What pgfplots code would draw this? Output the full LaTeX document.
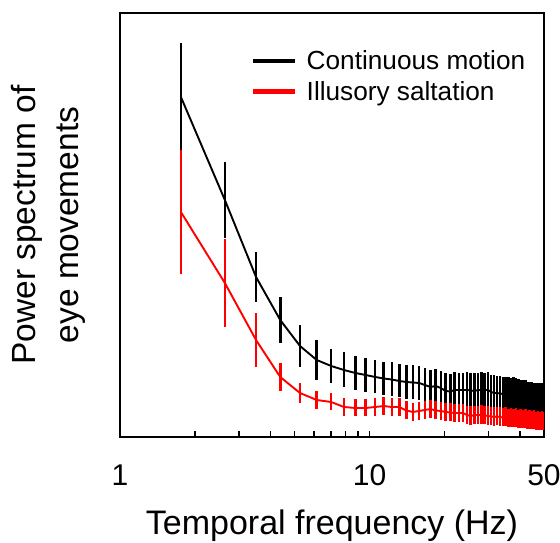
\documentclass[border=0pt]{standalone}
\usepackage{fontspec}
\setmainfont{Liberation Sans}
\usepackage{pgfplots}
\usepackage{pgfplotstable}
\pgfplotsset{compat=1.18}

\pgfplotstableread{
x y e
1.7544 340 54
2.6316 237 38
3.5088 160 25
4.3860 117 23
5.2632 91 21
6.1404 77 20
7.0175 71 17
7.8947 67 17.5
8.7719 64 17
9.6491 62 17
10.5263 60 16.5
11.4035 58.5 16.5
12.2807 57.5 17
13.1579 56 16.5
14.0351 55 17
14.9123 54.5 17
15.7895 54 17
16.6667 52 17
17.5439 50 17
18.4211 51 17
19.2982 49 17
20.1754 46 17.5
21.0526 45.5 17.5
21.9298 47 17.5
22.8070 47 17
23.6842 47 17
24.5614 47 17.5
25.4386 46.5 17
26.3158 46 17.5
27.1930 47 17
28.0702 47 17.5
28.9474 47 17
29.8246 47 17.5
30.7018 45 17
31.5789 44 17.5
32.4561 44 17
33.3333 43.5 17.5
34.2105 43 17
35.0877 42 17.5
35.9649 42 17.5
36.8421 42 17
37.7193 42 17.5
38.5965 41 17.5
39.4737 41 17
40.3509 39 17.5
41.2281 39 17.5
42.1053 39 17.5
42.9825 37.5 17.5
43.8596 37.5 17.5
44.7368 37.5 17
45.6140 36 17.5
46.4912 36 17.5
47.3684 36 17.5
48.2456 36 17.5
49.1228 36 17.5
50.0000 36 17.5
}\continuous

\pgfplotstableread{
x y e
1.7544 225 62
2.6316 154 44
3.5088 97 27
4.3860 60 14
5.2632 44 10
6.1404 37 9
7.0175 35 8.5
7.8947 30 9
8.7719 29 8.5
9.6491 29 8.5
10.5263 30 9
11.4035 31 9
12.2807 30 9
13.1579 30 9
14.0351 26.5 9
14.9123 25 9
15.7895 26 9
16.6667 27 9
17.5439 28 9
18.4211 26.5 9
19.2982 26 9
20.1754 25 9
21.0526 24.5 9
21.9298 24 9
22.8070 24 9
23.6842 24 9
24.5614 22 9
25.4386 21 9.5
26.3158 22 9
27.1930 22 9
28.0702 22 9.5
28.9474 21.5 9
29.8246 21 9.5
30.7018 20.5 9
31.5789 20 9.5
32.4561 20.5 9
33.3333 20 9.5
34.2105 19.5 9
35.0877 20 9.5
35.9649 19 9
36.8421 19.5 9.5
37.7193 19 9
38.5965 19 9.5
39.4737 18 9
40.3509 18.5 9.5
41.2281 18 9
42.1053 18 9.5
42.9825 17 9
43.8596 17.5 9.5
44.7368 17 9
45.6140 17 9.5
46.4912 16 9
47.3684 16.5 9.5
48.2456 16 9
49.1228 16 9.5
50.0000 15.5 9
}\saltation

\begin{document}
\begin{tikzpicture}
\useasboundingbox (-120pt,-106pt) rectangle (440pt,437pt);
\begin{axis}[
  at={(0pt,0pt)}, anchor=south west,
  scale only axis,
  width=424pt, height=424pt,
  xmode=log,
  xmin=1, xmax=50,
  ymin=0, ymax=424,
  axis line style={line width=2.2pt},
  xtick={1,10,50},
  xticklabels={1,10,50},
  minor xtick={2,3,4,5,6,7,8,9,20,30,40},
  ytick=\empty,
  xtick pos=left,
  tick align=inside,
  major tick length=6pt,
  minor tick length=6pt,
  tick style={line width=1.4pt, black},
  /pgf/number format/assume math mode=true,
  xticklabel style={font=\fontsize{30}{34}\selectfont, anchor=base, yshift=-49pt},
  xlabel={Temporal frequency (Hz)},
  xlabel style={font=\fontsize{34}{40}\selectfont, at={(axis description cs:0.5,-0.21)}, anchor=center},
  ylabel={Power spectrum of\\eye movements},
  ylabel style={font=\fontsize{33.5}{43}\selectfont, align=center, at={(axis description cs:-0.168,0.5)}, anchor=center},
  legend style={draw=none, fill=none, at={(axis description cs:0.302,0.928)}, anchor=north west,
    font=\fontsize{26.2}{30}\selectfont, nodes={inner xsep=9pt, inner ysep=5pt}},
  legend cell align=left,
  legend image code/.code={\draw[#1, line width=4.5pt] (0pt,0pt) -- (42pt,0pt);},
  clip=true,
]
\addplot[black, line width=1.9pt, mark=none,
  error bars/.cd, y dir=both, y explicit, error mark=none,
  error bar style={line width=2.6pt, black}]
  table[x=x, y=y, y error=e] {\continuous};
\addlegendentry{Continuous motion}
\addplot[red, line width=1.9pt, mark=none,
  error bars/.cd, y dir=both, y explicit, error mark=none,
  error bar style={line width=2.6pt, red}]
  table[x=x, y=y, y error=e] {\saltation};
\addlegendentry{Illusory saltation}
\end{axis}
\end{tikzpicture}
\end{document}
